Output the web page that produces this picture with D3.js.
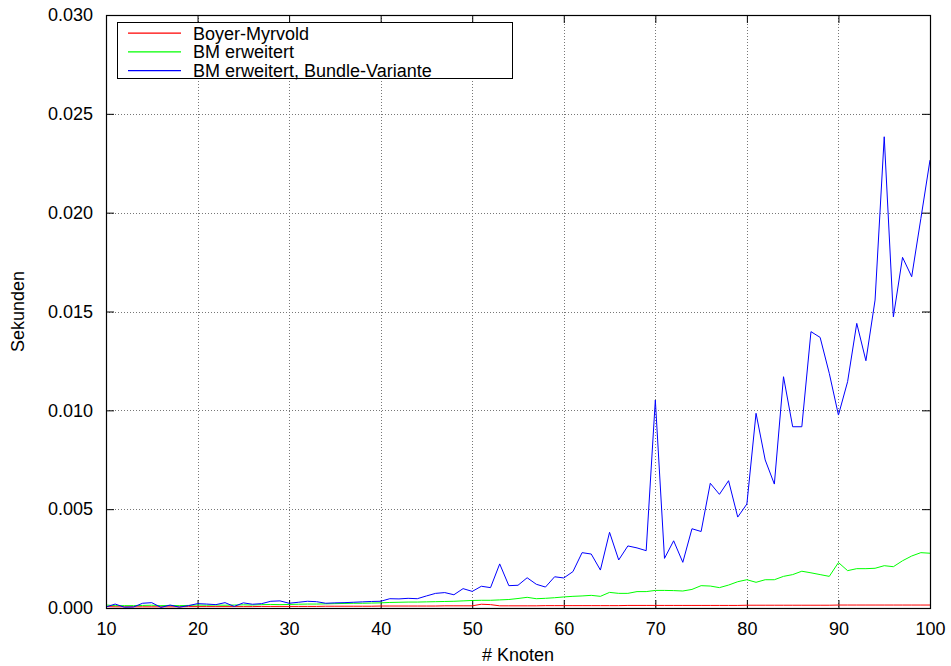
<!DOCTYPE html>
<html>
<head>
<meta charset="utf-8">
<script src="https://cdn.jsdelivr.net/npm/d3@7"></script>
<style>
  html, body { margin: 0; padding: 0; background: #fff; }
  svg text { font-family: "Liberation Sans", Arial, Helvetica, sans-serif; fill: #000; }
</style>
</head>
<body>
<svg id="chart" width="951" height="666"></svg>
<script>
// Laufzeit des Planaritätstests in Sekunden, je Knotenanzahl 10..100
const knoten = d3.range(10, 101);

const boyerMyrvold = [
  0.00007, 0.00006, 0.00006, 0.00006, 0.00006, 0.00006, 0.00006, 0.00006, 0.00006, 0.00007,
  0.00007, 0.00007, 0.00007, 0.00007, 0.00007, 0.00007, 0.00007, 0.00008, 0.00008, 0.00008,
  0.00008, 0.00008, 0.00008, 0.00008, 0.00009, 0.00009, 0.00009, 0.00009, 0.00009, 0.00009,
  0.00010, 0.00010, 0.00010, 0.00010, 0.00010, 0.00010, 0.00010, 0.00011, 0.00011, 0.00011,
  0.00011, 0.00019, 0.00017, 0.00011, 0.00011, 0.00011, 0.00011, 0.00011, 0.00012, 0.00012,
  0.00012, 0.00012, 0.00012, 0.00012, 0.00012, 0.00012, 0.00012, 0.00013, 0.00013, 0.00013,
  0.00013, 0.00013, 0.00013, 0.00013, 0.00013, 0.00013, 0.00013, 0.00013, 0.00013, 0.00013,
  0.00014, 0.00014, 0.00014, 0.00014, 0.00014, 0.00014, 0.00014, 0.00014, 0.00014, 0.00014,
  0.00015, 0.00015, 0.00015, 0.00015, 0.00015, 0.00015, 0.00015, 0.00015, 0.00015, 0.00015,
  0.00015
];

const bmErweitert = [
  0.00015, 0.00012, 0.00012, 0.00012, 0.00013, 0.00014, 0.00012, 0.00013, 0.00012, 0.00013,
  0.00015, 0.00014, 0.00015, 0.00014, 0.00015, 0.00016, 0.00015, 0.00017, 0.00018, 0.00017,
  0.00018, 0.00019, 0.00020, 0.00020, 0.00021, 0.00022, 0.00023, 0.00024, 0.00024, 0.00025,
  0.00026, 0.00028, 0.00029, 0.00030, 0.00030, 0.00031, 0.00032, 0.00033, 0.00034, 0.00036,
  0.00038, 0.00039, 0.00039, 0.00041, 0.00043, 0.00048, 0.00054, 0.00047, 0.00049, 0.00052,
  0.00056, 0.00059, 0.00061, 0.00064, 0.00059, 0.00079, 0.00074, 0.00074, 0.00083, 0.00083,
  0.00089, 0.00089, 0.00088, 0.00086, 0.00094, 0.00113, 0.00111, 0.00103, 0.00116, 0.00133,
  0.00143, 0.00130, 0.00143, 0.00143, 0.00160, 0.00169, 0.00186, 0.00178, 0.00169, 0.00160,
  0.00230, 0.00189, 0.00199, 0.00199, 0.00201, 0.00214, 0.00209, 0.00239, 0.00263, 0.00280,
  0.00277
];

const bundleVariante = [
  0.00005, 0.00020, 0.00004, 0.00005, 0.00024, 0.00027, 0.00003, 0.00015, 0.00004, 0.00012,
  0.00022, 0.00020, 0.00017, 0.00027, 0.00008, 0.00026, 0.00019, 0.00022, 0.00034, 0.00036,
  0.00024, 0.00029, 0.00034, 0.00032, 0.00024, 0.00026, 0.00027, 0.00029, 0.00031, 0.00033,
  0.00034, 0.00047, 0.00046, 0.00049, 0.00047, 0.00061, 0.00074, 0.00078, 0.00067, 0.00098,
  0.00084, 0.00110, 0.00103, 0.00223, 0.00113, 0.00115, 0.00153, 0.00120, 0.00106, 0.00158,
  0.00152, 0.00184, 0.00280, 0.00273, 0.00192, 0.00383, 0.00243, 0.00314, 0.00304, 0.00290,
  0.01052, 0.00251, 0.00340, 0.00231, 0.00401, 0.00387, 0.00631, 0.00575, 0.00644, 0.00460,
  0.00526, 0.00985, 0.00749, 0.00627, 0.01170, 0.00917, 0.00917, 0.01398, 0.01369, 0.01187,
  0.00976, 0.01145, 0.01440, 0.01251, 0.01558, 0.02384, 0.01473, 0.01774, 0.01676, 0.01970,
  0.02266
];

const xTicks = [10, 20, 30, 40, 50, 60, 70, 80, 90, 100];
const yTicks = [0, 0.005, 0.010, 0.015, 0.020, 0.025, 0.030];

const serien = [
  { name: "Boyer-Myrvold", values: boyerMyrvold, color: "#ff0000" },
  { name: "BM erweitert", values: bmErweitert, color: "#00ff00" },
  { name: "BM erweitert, Bundle-Variante", values: bundleVariante, color: "#0000ff" }
];

const plot = { left: 106, right: 930, top: 15, bottom: 608 };
const fontSize = 18;

const svg = d3.select("#chart");
const x = d3.scaleLinear().domain([10, 100]).range([plot.left, plot.right]);
const y = d3.scaleLinear().domain([0, 0.030]).range([plot.bottom, plot.top]);

// dotted grid
const grid = svg.append("g")
  .attr("stroke", "#777").attr("stroke-width", 1).attr("stroke-dasharray", "1,2");
grid.selectAll("line.gx").data(xTicks.slice(1, -1)).join("line")
  .attr("x1", d => Math.round(x(d)) + 0.5).attr("x2", d => Math.round(x(d)) + 0.5)
  .attr("y1", plot.top).attr("y2", plot.bottom);
grid.selectAll("line.gy").data(yTicks.slice(1, -1)).join("line")
  .attr("x1", plot.left).attr("x2", plot.right)
  .attr("y1", d => Math.round(y(d)) + 0.5).attr("y2", d => Math.round(y(d)) + 0.5);

// axes with inward ticks (bottom/left labelled, top/right mirrored)
const axisStyle = g => {
  g.select(".domain").remove();
  g.selectAll(".tick line").attr("stroke", "#000").attr("stroke-width", 1);
  g.selectAll("text").style("font-size", fontSize + "px")
    .style("font-family", '"Liberation Sans", Arial, sans-serif');
};

svg.append("g").attr("transform", `translate(0,${plot.bottom})`)
  .call(d3.axisBottom(x).tickValues(xTicks).tickSize(-8).tickPadding(14).tickFormat(d3.format("d")))
  .call(axisStyle);
svg.append("g").attr("transform", `translate(0,${plot.top})`)
  .call(d3.axisTop(x).tickValues(xTicks).tickSize(-8).tickFormat(""))
  .call(axisStyle);
svg.append("g").attr("transform", `translate(${plot.left},0)`)
  .call(d3.axisLeft(y).tickValues(yTicks).tickSize(-8).tickPadding(13).tickFormat(d3.format(".3f")))
  .call(axisStyle);
svg.append("g").attr("transform", `translate(${plot.right},0)`)
  .call(d3.axisRight(y).tickValues(yTicks).tickSize(-8).tickFormat(""))
  .call(axisStyle);

// data lines
const lineGen = d3.line().x((d, i) => x(knoten[i])).y(d => y(d));
svg.append("g").selectAll("path").data(serien).join("path")
  .attr("fill", "none")
  .style("stroke", d => d.color)
  .attr("stroke-width", 1)
  .attr("d", d => lineGen(d.values));

// plot frame
svg.append("rect")
  .attr("x", plot.left + 0.5).attr("y", plot.top + 0.5)
  .attr("width", plot.right - plot.left).attr("height", plot.bottom - plot.top)
  .attr("fill", "none").attr("stroke", "#000").attr("stroke-width", 1.2);

// legend
const legend = svg.append("g");
legend.append("rect")
  .attr("x", 117.5).attr("y", 22.5).attr("width", 395).attr("height", 56)
  .attr("fill", "#fff").attr("stroke", "#000").attr("stroke-width", 1);
const rows = legend.selectAll("g.row").data(serien).join("g")
  .attr("class", "row")
  .attr("transform", (d, i) => `translate(0,${33 + i * 18.7})`);
rows.append("path")
  .attr("d", "M128,0.2H181")
  .attr("fill", "none")
  .style("stroke", d => d.color)
  .style("stroke-width", "1.3px");
rows.append("text")
  .attr("x", 193).attr("y", 6.5)
  .style("font-size", fontSize + "px")
  .text(d => d.name);

// axis titles
svg.append("text")
  .attr("x", (plot.left + plot.right) / 2).attr("y", 661)
  .attr("text-anchor", "middle")
  .style("font-size", fontSize + "px")
  .text("# Knoten");
svg.append("text")
  .attr("transform", `translate(24,${(plot.top + plot.bottom) / 2}) rotate(-90)`)
  .attr("text-anchor", "middle")
  .style("font-size", fontSize + "px")
  .text("Sekunden");
</script>
</body>
</html>
